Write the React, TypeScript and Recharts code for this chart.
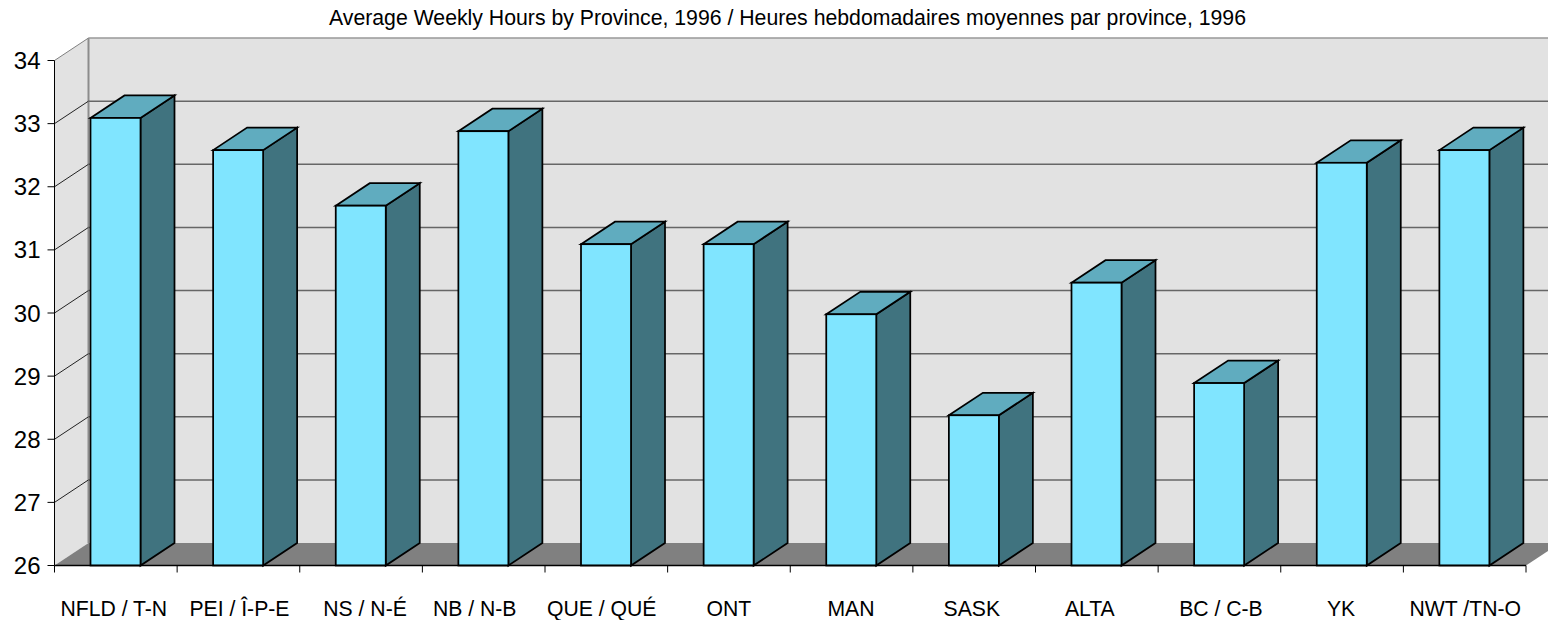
import React from 'react';
import { BarChart, Bar, XAxis, YAxis, ReferenceArea, ReferenceLine } from 'recharts';

const TITLE = 'Average Weekly Hours by Province, 1996 / Heures hebdomadaires moyennes par province, 1996';
const provinces = ['NFLD / T-N', 'PEI / Î-P-E', 'NS / N-É', 'NB / N-B', 'QUE / QUÉ', 'ONT', 'MAN', 'SASK', 'ALTA', 'BC / C-B', 'YK', 'NWT /TN-O'];
const hours = [33.09, 32.58, 31.7, 32.88, 31.09, 31.09, 29.98, 28.38, 30.48, 28.89, 32.38, 32.58];
const hourTicks = [26, 27, 28, 29, 30, 31, 32, 33, 34];

// the original labels sit off-centre, so each one gets a small nudge
const labelNudge = [-2, 1, 4, -9, -4.6, 0, -0.6, -2.3, -7, 1.5, -1, 0.6];

const chartData = provinces.map((province, i) => ({ province, hours: hours[i] }));

const FONT = '"Liberation Sans", Arial, sans-serif';
const DEPTH_X = 34;
const DEPTH_Y = 22.5;
const BAND = (1526 - 54.5) / provinces.length;

// back wall, side wall and floor of the fake 3D box
const Walls = ({ x, y, width, height }: any) => {
  const bottom = y + height;
  const right = x + width;
  return (
    <g>
      <polygon points={`${x + DEPTH_X},${y - DEPTH_Y} ${right + DEPTH_X},${y - DEPTH_Y} ${right + DEPTH_X},${bottom - DEPTH_Y} ${x + DEPTH_X},${bottom - DEPTH_Y}`} fill="#e2e2e2" />
      <polygon points={`${x},${y} ${x + DEPTH_X},${y - DEPTH_Y} ${x + DEPTH_X},${bottom - DEPTH_Y} ${x},${bottom}`} fill="#e2e2e2" />
      <polygon points={`${x},${bottom} ${x + DEPTH_X},${bottom - DEPTH_Y} ${right + DEPTH_X},${bottom - DEPTH_Y} ${right},${bottom}`} fill="#808080" />
      <line x1={x + DEPTH_X} y1={y - DEPTH_Y} x2={x + DEPTH_X} y2={bottom - DEPTH_Y} stroke="#8c8c8c" strokeWidth={2} />
    </g>
  );
};

const GridLine = ({ x1, y1, x2, y2, top }: any) => (
  <g>
    <line x1={x1} y1={y1} x2={x1 + DEPTH_X} y2={y1 - DEPTH_Y} stroke={top ? '#808080' : '#222222'} strokeWidth={1} />
    <line x1={x1 + DEPTH_X} y1={y1 - DEPTH_Y} x2={x2 + DEPTH_X} y2={y2 - DEPTH_Y} stroke={top ? '#999999' : '#666666'} strokeWidth={1.5} />
  </g>
);

const Box = ({ x, y, width, height }: any) => {
  const bottom = y + height;
  const right = x + width;
  return (
    <g stroke="#000000" strokeWidth={1.75} strokeLinejoin="miter">
      <polygon points={`${right},${y} ${right + DEPTH_X},${y - DEPTH_Y} ${right + DEPTH_X},${bottom - DEPTH_Y} ${right},${bottom}`} fill="#40737f" />
      <polygon points={`${x},${y} ${x + DEPTH_X},${y - DEPTH_Y} ${right + DEPTH_X},${y - DEPTH_Y} ${right},${y}`} fill="#60acbf" />
      <rect x={x} y={y} width={width} height={height} fill="#80e5ff" />
    </g>
  );
};

const CategoryTick = ({ x, y, index, payload }: any) => (
  <g>
    <line x1={x + BAND / 2} y1={y} x2={x + BAND / 2} y2={y + 7} stroke="#000000" />
    {index === 0 && <line x1={x - BAND / 2} y1={y} x2={x - BAND / 2} y2={y + 7} stroke="#000000" />}
    <text x={x + labelNudge[index]} y={y + 50.5} textAnchor="middle" fontFamily={FONT} fontSize={21.2} fill="#000000">
      {payload.value}
    </text>
  </g>
);

export default function App() {
  return (
    <div style={{ position: 'absolute', left: 0, top: 0, width: 1548, height: 620 }}>
      <BarChart
        width={1548}
        height={620}
        data={chartData}
        margin={{ top: 60.5, right: 22, bottom: 0, left: 0 }}
      >
        <ReferenceArea y1={26} y2={34} shape={Walls} zIndex={-100} />
        {hourTicks.slice(1).map((t) => (
          <ReferenceLine key={t} y={t} zIndex={-90} shape={(p: any) => <GridLine {...p} top={t === 34} />} />
        ))}
        <XAxis
          dataKey="province"
          height={54.5}
          interval={0}
          tickLine={false}
          tickSize={0}
          tickMargin={0}
          tick={CategoryTick}
          axisLine={{ stroke: '#000000', strokeWidth: 1.5 }}
        />
        <YAxis
          width={54.5}
          domain={[26, 34]}
          ticks={hourTicks}
          interval={0}
          tickSize={7}
          tickMargin={7}
          tickLine={{ stroke: '#000000' }}
          axisLine={{ stroke: '#000000' }}
          tick={{ fontFamily: FONT, fontSize: 24, fill: '#000000' }}
        />
        <Bar dataKey="hours" barSize={50} shape={Box} isAnimationActive={false} />
        <text x={787.5} y={25} textAnchor="middle" fontFamily={FONT} fontSize={21.26} fill="#000000">
          {TITLE}
        </text>
      </BarChart>
    </div>
  );
}
